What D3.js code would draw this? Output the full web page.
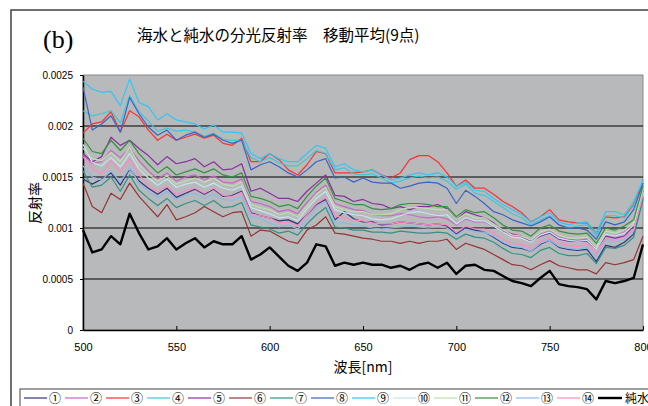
<!DOCTYPE html>
<html>
<head>
<meta charset="utf-8">
<script src="https://cdn.jsdelivr.net/npm/d3@7"></script>
<style>
  html, body { margin: 0; padding: 0; background: #fff; }
  svg { display: block; }
</style>
</head>
<body>
<svg id="chart" width="648" height="406"></svg>
<script>
// wavelength grid (nm), every 5 nm
const wavelengths = d3.range(500, 801, 5);

const legendLabels = ["①","②","③","④","⑤","⑥","⑦","⑧","⑨","⑩","⑪","⑫","⑬","⑭","純水"];
const seriesColors = ["#30357f","#c866c8","#ff3030","#3cc8dc","#8a2fa0","#963434","#2f9486","#3a64c4",
                      "#33c6f4","#c2e6ee","#bedfaa","#35923f","#8cbaea","#ff88c4","#000000"];

// reflectance values, unit 1e-4
const s1  = [14.8,14.3,14.8,15.4,14.2,15.8,14.6,13.9,13.3,13.9,13.0,13.4,13.8,13.3,13.8,13.1,13.2,13.6,11.5,11.2,11.0,10.7,10.8,10.4,11.3,12.3,12.8,10.8,11.6,10.9,10.6,10.6,10.3,10.4,10.6,10.5,10.4,10.3,10.4,10.2,9.4,10.0,9.8,9.6,9.1,8.5,8.1,8.0,7.7,8.4,8.8,8.1,7.9,7.8,7.9,6.7,8.3,8.1,8.6,9.4,13.0];
const s2  = [17.2,16.3,16.5,17.6,16.9,17.8,16.6,15.6,14.8,15.4,14.6,15.0,15.2,14.7,15.1,14.5,14.4,14.8,12.6,12.4,12.1,11.6,11.8,11.4,12.5,13.5,14.2,12.4,12.1,11.8,11.7,11.3,11.2,11.2,11.4,11.3,11.1,11.0,11.1,10.9,10.3,10.9,10.6,10.6,10.2,9.6,9.2,9.1,8.7,9.4,9.7,9.1,8.9,8.8,8.9,8.0,9.4,9.2,9.6,10.3,13.6];
const s3  = [19.3,20.2,20.4,21.4,19.4,21.5,20.9,19.6,18.6,19.2,18.6,18.9,19.2,18.8,19.1,18.3,18.1,18.8,16.5,16.5,17.3,16.7,15.7,15.2,16.2,17.5,17.3,15.4,15.4,15.4,15.5,15.7,15.2,14.9,15.4,16.7,17.1,17.1,16.5,15.4,14.1,14.7,13.9,13.9,13.3,12.6,12.1,11.5,10.6,11.1,11.8,10.8,10.6,10.5,10.5,9.5,11.1,11.0,11.1,12.3,14.4];
const s4  = [21.5,21.0,21.2,21.5,20.3,23.0,21.4,20.5,19.5,19.8,19.5,19.6,19.4,19.0,19.3,18.7,18.6,18.6,16.9,16.5,16.9,16.4,16.1,16.1,16.8,17.6,17.3,15.7,15.9,15.3,15.2,15.3,14.9,14.4,14.6,14.9,15.1,14.9,15.0,14.6,13.8,14.3,13.4,13.2,12.6,12.0,11.4,11.0,10.3,10.8,11.2,10.3,10.0,10.2,10.3,9.2,11.2,11.2,11.0,12.2,14.2];
const s5  = [17.3,16.5,17.0,18.9,18.1,18.6,17.8,17.1,16.2,17.0,16.3,16.5,16.8,16.0,16.5,15.7,15.8,16.3,13.6,13.9,13.4,12.9,12.9,12.6,13.6,14.4,15.2,13.2,13.1,12.6,12.8,12.4,12.3,11.9,12.1,11.8,12.1,12.1,12.3,11.9,10.8,11.6,11.3,11.0,10.5,9.7,9.4,9.2,8.7,9.2,9.5,8.9,8.7,8.7,8.7,7.9,9.2,9.0,9.2,10.2,13.7];
const s6  = [14.4,12.1,11.5,13.4,12.8,14.4,13.1,12.1,11.1,12.3,10.8,11.1,11.5,12.1,11.6,11.1,11.5,11.6,9.2,9.8,9.7,9.2,8.7,8.5,9.8,10.3,11.1,9.5,9.4,9.2,9.0,8.9,8.7,8.7,8.5,8.7,8.5,8.7,8.7,8.9,7.9,8.5,8.2,7.9,7.4,6.9,6.4,6.3,5.9,6.4,6.8,6.3,6.1,5.9,5.9,5.5,6.6,6.4,6.6,6.9,9.2];
const s7  = [15.6,14.0,14.2,15.0,13.6,15.2,13.7,12.9,12.2,12.9,12.0,12.4,12.7,12.2,12.7,12.0,12.1,12.5,10.3,10.1,9.9,9.5,9.7,9.3,10.4,11.3,12.0,10.1,10.0,9.8,9.8,9.6,9.6,9.5,9.7,9.6,9.5,9.5,9.6,9.5,8.9,9.4,9.1,9.0,8.6,8.0,7.5,7.4,7.1,7.8,8.1,7.5,7.3,7.3,7.5,6.5,8.1,8.0,8.3,9.1,12.8];
const s8  = [23.8,19.6,20.2,21.0,19.4,22.8,21.2,19.9,19.1,19.6,18.6,19.1,19.4,18.9,19.2,18.6,18.3,18.6,15.7,16.2,16.5,16.0,15.4,15.0,15.7,16.5,16.8,14.9,15.0,14.5,14.9,14.5,14.4,14.4,13.9,14.1,14.4,14.5,14.4,13.9,12.4,13.7,13.1,12.4,11.6,11.3,10.8,10.5,10.2,10.6,11.1,10.3,10.0,10.0,9.8,8.9,10.6,10.3,10.6,11.8,14.4];
const s9  = [24.4,23.6,23.3,23.4,22.0,24.6,22.3,21.9,20.6,21.2,20.6,20.4,20.2,19.7,20.1,19.4,19.4,19.3,17.3,16.8,17.3,16.8,16.5,16.5,17.3,18.1,17.8,16.0,16.3,15.7,15.5,15.7,15.2,14.7,14.9,15.2,15.4,15.2,15.4,15.0,14.1,14.5,13.7,13.6,12.9,12.3,11.8,11.3,10.6,11.1,11.5,10.6,10.3,10.5,10.6,9.5,11.6,11.6,11.3,12.6,14.7];
const s10 = [18.2,16.4,16.1,16.9,16.0,17.3,15.8,14.9,14.2,14.8,14.0,14.3,14.5,14.0,14.4,13.9,13.7,14.1,12.0,11.7,11.4,11.0,11.1,10.7,11.9,12.9,13.6,11.8,11.5,11.3,11.2,10.9,10.8,10.9,11.2,11.5,11.6,11.4,11.2,11.3,10.4,11.0,10.7,10.7,10.2,9.6,9.1,9.0,8.6,9.3,9.6,9.0,8.8,8.7,8.8,7.9,9.4,9.2,9.5,10.3,13.5];
const s11 = [17.8,16.8,16.6,17.4,16.5,17.9,16.2,15.3,14.6,15.1,14.3,14.6,14.9,14.5,14.9,14.3,14.1,14.5,12.3,12.0,11.8,11.3,11.5,11.1,12.2,13.3,14.0,12.1,11.8,11.6,11.6,11.3,11.3,11.4,11.8,12.0,12.0,11.9,11.8,11.8,10.8,11.4,11.0,11.0,10.4,9.8,9.3,9.2,8.8,9.6,9.9,9.3,9.0,9.0,9.1,8.1,9.7,9.5,9.8,10.5,13.8];
const s12 = [18.8,17.5,17.3,18.6,17.6,18.6,17.3,16.3,15.4,16.0,15.2,15.5,15.8,15.4,15.8,15.2,15.0,15.4,13.1,12.9,12.6,12.1,12.3,11.9,13.1,14.1,14.9,12.9,12.6,12.3,12.3,11.9,11.8,11.9,12.3,12.4,12.4,12.3,12.1,12.1,11.1,11.8,11.5,11.6,11.0,10.3,9.8,9.7,9.2,10.0,10.3,9.7,9.5,9.4,9.5,8.5,10.0,9.8,10.2,10.8,14.1];
const s13 = [16.1,15.0,14.7,15.6,14.5,15.9,14.4,13.6,13.0,13.6,12.8,13.2,13.4,12.9,13.3,12.8,12.7,13.1,11.1,10.9,10.5,10.1,10.3,9.9,10.8,12.0,12.6,10.6,10.5,10.3,10.2,10.0,9.9,10.0,10.1,10.2,10.1,10.0,10.1,10.0,9.3,9.9,9.6,9.6,9.2,8.6,8.2,8.1,7.7,8.5,8.8,8.2,8.0,7.9,8.1,7.2,8.8,8.6,8.9,9.7,13.4];
const s14 = [17.0,15.8,15.3,16.6,15.5,16.8,15.2,14.2,13.5,14.1,13.3,13.7,13.9,13.4,13.9,13.2,13.1,13.5,11.4,11.2,11.0,10.5,10.6,10.2,11.3,12.4,13.0,11.2,11.0,10.8,10.7,10.5,10.4,10.4,10.6,10.5,10.4,10.3,10.4,10.3,9.6,10.2,9.9,9.9,9.5,8.9,8.5,8.4,8.0,8.7,9.0,8.5,8.3,8.2,8.4,7.5,8.9,8.8,9.1,9.8,13.2];
const pureWater = [9.8,7.6,7.9,9.2,8.4,11.4,9.5,7.9,8.2,9.0,7.9,8.5,9.0,8.1,8.7,8.4,8.4,9.2,6.9,7.4,8.1,7.2,6.3,5.8,6.6,8.4,8.2,6.3,6.6,6.4,6.6,6.4,6.4,6.1,6.3,5.9,6.4,6.6,6.1,6.6,5.5,6.3,6.4,5.9,5.8,5.3,4.8,4.6,4.3,5.1,5.8,4.5,4.3,4.2,4.0,3.0,4.8,4.6,4.8,5.1,8.4];

const allSeries = [s1,s2,s3,s4,s5,s6,s7,s8,s9,s10,s11,s12,s13,s14,pureWater];

const xTicks = [500,550,600,650,700,750,800];
const yTicks = [0,0.0005,0.001,0.0015,0.002,0.0025];

const svg = d3.select("#chart");
const plot = { left: 83, right: 643, top: 75, bottom: 330 };

const x = d3.scaleLinear().domain([500, 800]).range([plot.left, plot.right]);
const y = d3.scaleLinear().domain([0, 0.0025]).range([plot.bottom, plot.top]);

// outer chart frame
svg.append("rect")
    .attr("x", 11).attr("y", 10).attr("width", 660).attr("height", 420)
    .attr("fill", "#fff").attr("stroke", "#404040").attr("stroke-width", 1.5);

// plot background
svg.append("rect")
    .attr("x", plot.left).attr("y", plot.top)
    .attr("width", plot.right - plot.left).attr("height", plot.bottom - plot.top)
    .attr("fill", "#b8b9ba").attr("stroke", "#8a8a8a").attr("stroke-width", 1);

// gridlines
svg.append("g").selectAll("line")
    .data(yTicks.filter(d => d > 0 && d < 0.0025))
    .join("line")
    .attr("x1", plot.left).attr("x2", plot.right)
    .attr("y1", d => y(d)).attr("y2", d => y(d))
    .attr("stroke", "#000").attr("stroke-width", 1.1);

// axes
const xAxis = svg.append("g")
    .attr("transform", `translate(0,${plot.bottom})`)
    .call(d3.axisBottom(x).tickValues(xTicks).tickSizeInner(-4).tickSizeOuter(0).tickPadding(13).tickFormat(d3.format("d")));
xAxis.select(".domain").attr("stroke", "#000").attr("stroke-width", 1.5);
xAxis.selectAll("text").attr("font-family", "Liberation Sans, Arial, sans-serif").attr("font-size", "11px").attr("fill", "#000");

const yAxis = svg.append("g")
    .attr("transform", `translate(${plot.left},0)`)
    .call(d3.axisLeft(y).tickValues(yTicks).tickSizeInner(3).tickSizeOuter(0).tickPadding(7).tickFormat(d => d === 0 ? "0" : String(+d.toFixed(4))));
yAxis.select(".domain").attr("stroke", "#000").attr("stroke-width", 1.5);
yAxis.selectAll("text").attr("font-family", "Liberation Sans, Arial, sans-serif").attr("font-size", "10px").attr("fill", "#000");

// series lines
const line = d3.line()
    .x((d, i) => x(wavelengths[i]))
    .y(d => y(d * 1e-4));

svg.append("g").selectAll("path")
    .data(allSeries)
    .join("path")
    .attr("d", line)
    .attr("fill", "none")
    .attr("stroke", (d, i) => seriesColors[i])
    .attr("stroke-width", (d, i) => i === 14 ? 2.4 : 1.2)
    .attr("stroke-linejoin", "round");

// titles
svg.append("text")
    .attr("x", 43).attr("y", 48)
    .attr("font-family", "Liberation Serif, Times New Roman, serif")
    .attr("font-size", "26px")
    .text("(b)");

svg.append("text")
    .attr("x", 137).attr("y", 41)
    .attr("font-family", "Noto Sans CJK JP, sans-serif")
    .attr("font-size", "15.5px")
    .text("海水と純水の分光反射率　移動平均(9点)");

svg.append("text")
    .attr("x", (plot.left + plot.right) / 2).attr("y", 372)
    .attr("text-anchor", "middle")
    .attr("font-family", "Noto Sans CJK JP, sans-serif")
    .attr("font-size", "14px")
    .text("波長[nm]");

svg.append("text")
    .attr("transform", "translate(40,203) rotate(-90)")
    .attr("text-anchor", "middle")
    .attr("font-family", "Noto Sans CJK JP, sans-serif")
    .attr("font-size", "14px")
    .text("反射率");

// legend
svg.append("rect")
    .attr("x", 20).attr("y", 389).attr("width", 660).attr("height", 40)
    .attr("fill", "#fff").attr("stroke", "#404040").attr("stroke-width", 1);

const legend = svg.append("g").selectAll("g")
    .data(legendLabels)
    .join("g")
    .attr("transform", (d, i) => `translate(${55 + 41 * i},398)`);

legend.append("line")
    .attr("x1", -31).attr("x2", (d, i) => i === 14 ? -7 : -8)
    .attr("stroke", (d, i) => seriesColors[i])
    .attr("stroke-width", (d, i) => i === 14 ? 2.4 : 1.2);

legend.append("text")
    .attr("x", (d, i) => i === 14 ? -4 : 0)
    .attr("y", 4.5)
    .attr("text-anchor", (d, i) => i === 14 ? "start" : "middle")
    .attr("font-family", "Noto Sans CJK JP, sans-serif")
    .attr("font-size", "12px")
    .text(d => d);
</script>
</body>
</html>
